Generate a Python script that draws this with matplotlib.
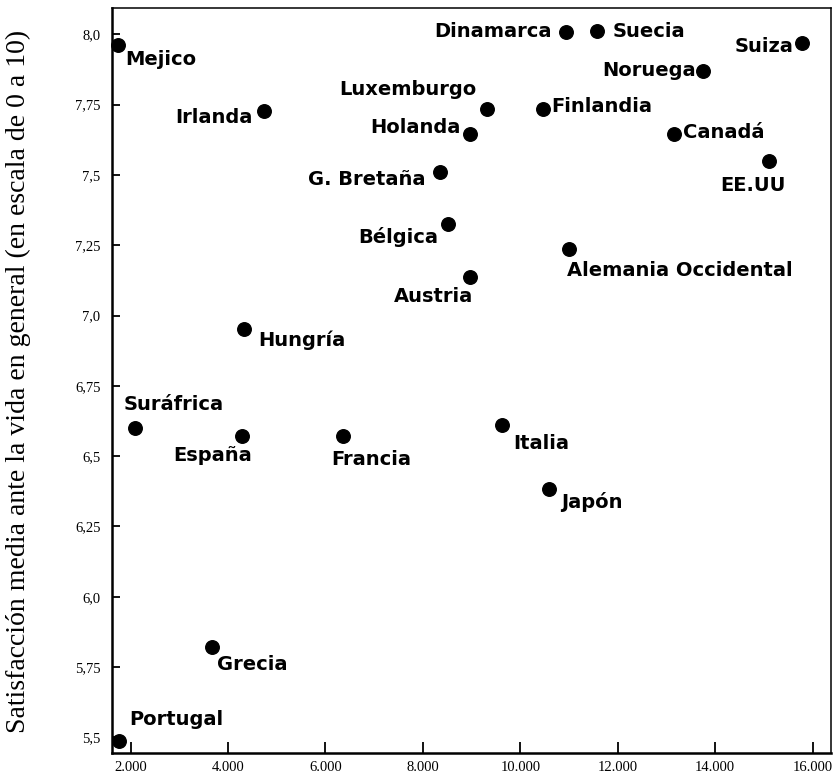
import matplotlib
matplotlib.use("Agg")
import matplotlib.pyplot as plt

countries = ["Mejico", "Irlanda", "Luxemburgo", "Holanda", "G. Bretaña", "Bélgica",
             "Austria", "Dinamarca", "Suecia", "Suiza", "Noruega", "Finlandia",
             "Canadá", "EE.UU", "Alemania Occidental", "Hungría", "Suráfrica",
             "España", "Francia", "Italia", "Japón", "Grecia", "Portugal"]
income = [1730, 4740, 9310, 8970, 8350, 8520,
          8970, 10930, 11570, 15790, 13760, 10470,
          13160, 15110, 10990, 4330, 2090,
          4280, 6360, 9620, 10580, 3660, 1760]
satisfaction = [7.964, 7.727, 7.733, 7.644, 7.509, 7.324,
                7.137, 8.009, 8.012, 7.968, 7.870, 7.735,
                7.644, 7.550, 7.238, 6.951, 6.601,
                6.571, 6.571, 6.611, 6.383, 5.822, 5.488]

x_ticks = [2000, 4000, 6000, 8000, 10000, 12000, 14000, 16000]
x_ticklabels = ["2.000", "4.000", "6.000", "8.000", "10.000", "12.000", "14.000", "16.000"]
y_ticks = [5.5, 5.75, 6.0, 6.25, 6.5, 6.75, 7.0, 7.25, 7.5, 7.75, 8.0]
y_ticklabels = ["5,5", "5,75", "6,0", "6,25", "6,5", "6,75", "7,0", "7,25", "7,5", "7,75", "8,0"]
y_label = "Satisfacción media ante la vida en general (en escala de 0 a 10)"

# label placement: (dx px, dy px, ha)
label_pos = {
    "Mejico": (8, -15, "left"),
    "Irlanda": (-11, -6, "right"),
    "Luxemburgo": (-10, 20, "right"),
    "Holanda": (-10, 7, "right"),
    "G. Bretaña": (-14, -7, "right"),
    "Bélgica": (-10, -13, "right"),
    "Austria": (3, -19, "right"),
    "Dinamarca": (-14, 0, "right"),
    "Suecia": (16, 0, "left"),
    "Suiza": (-9, -3, "right"),
    "Noruega": (-8, 0, "right"),
    "Finlandia": (8, 2, "left"),
    "Canadá": (9, 2, "left"),
    "EE.UU": (-16, -25, "center"),
    "Alemania Occidental": (-2, -22, "left"),
    "Hungría": (14, -11, "left"),
    "Suráfrica": (-11, 23, "left"),
    "España": (10, -19, "right"),
    "Francia": (-12, -23, "left"),
    "Italia": (11, -19, "left"),
    "Japón": (13, -13, "left"),
    "Grecia": (5, -18, "left"),
    "Portugal": (10, 21, "left"),
}

fig = plt.figure(figsize=(8.39, 7.81), dpi=100)
ax = fig.add_axes([0.1331, 0.0362, 0.8574, 0.9536])
ax.scatter(income, satisfaction, s=95, color="black", zorder=3, clip_on=False)

for name, xv, yv in zip(countries, income, satisfaction):
    dx, dy, ha = label_pos[name]
    ax.annotate(name, (xv, yv), xytext=(dx, dy), textcoords="offset pixels",
                ha=ha, va="center", fontsize=14, fontweight="bold",
                family="DejaVu Sans", color="black")

ax.set_xlim(1610, 16380)
ax.set_ylim(5.445, 8.094)
ax.set_xticks(x_ticks)
ax.set_xticklabels(x_ticklabels, family="Liberation Serif", fontsize=10.5)
ax.set_yticks(y_ticks)
ax.set_yticklabels(y_ticklabels, family="Liberation Serif", fontsize=10.5)
ax.tick_params(axis="x", direction="in", length=8, width=1.3, pad=6)
ax.tick_params(axis="y", direction="in", length=6, width=1.3, pad=8)

ax.spines["left"].set_linewidth(1.8)
ax.spines["bottom"].set_linewidth(1.8)
ax.spines["top"].set_linewidth(1.1)
ax.spines["right"].set_linewidth(1.1)

fig.text(0.022, 0.511, y_label, rotation=90, ha="center", va="center",
         family="Liberation Serif", fontsize=20)

fig.savefig("out.png", dpi=100)
